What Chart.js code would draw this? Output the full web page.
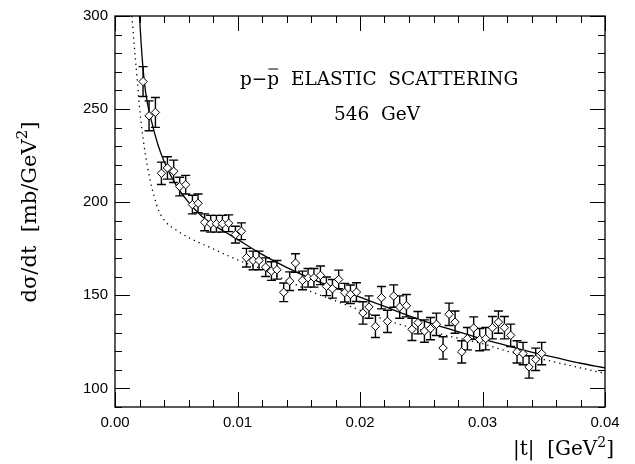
<!DOCTYPE html>
<html>
<head>
<meta charset="utf-8">
<script src="https://cdn.jsdelivr.net/npm/chart.js@4"></script>
<style>
  html, body { margin: 0; padding: 0; background: #fff; }
  #wrap { width: 635px; height: 464px; position: relative; }
</style>
</head>
<body>
<div id="wrap"><canvas id="chartElastic"></canvas></div>
<script>
// measured points: |t| (GeV^2), dsigma/dt (mb/GeV^2), error
const tVals = [
  0.00229, 0.00278, 0.00330, 0.00379, 0.00428, 0.00479, 0.00528, 0.00577, 0.00632, 0.00678,
  0.00732, 0.00781, 0.00828, 0.00877, 0.00928, 0.00983, 0.01032, 0.01073, 0.01127, 0.01176,
  0.01230, 0.01277, 0.01322, 0.01377, 0.01426, 0.01473, 0.01530, 0.01576, 0.01624, 0.01677,
  0.01726, 0.01775, 0.01826, 0.01875, 0.01922, 0.01971, 0.02024, 0.02073, 0.02126, 0.02175,
  0.02224, 0.02275, 0.02324, 0.02379, 0.02424, 0.02473, 0.02526, 0.02575, 0.02624, 0.02678,
  0.02727, 0.02776, 0.02830, 0.02877, 0.02928, 0.02977, 0.03026, 0.03081, 0.03130, 0.03179,
  0.03230, 0.03282, 0.03331, 0.03380, 0.03434, 0.03483
];
const dsdt = [
  264.8, 246.4, 248.2, 215.5, 218.4, 216.6, 208.4, 209.4, 198.7, 199.4,
  189.2, 188.4, 188.4, 188.4, 188.7, 182.6, 184.4, 170.2, 168.7, 168.7,
  165.1, 163.0, 163.7, 151.6, 157.6, 167.3, 158.0, 159.4, 159.4, 160.7,
  154.8, 153.5, 158.5, 151.4, 150.5, 151.7, 140.5, 143.7, 133.3, 148.7,
  136.0, 149.6, 143.7, 144.4, 131.7, 135.3, 130.8, 132.1, 134.4, 121.7,
  139.8, 135.6, 119.6, 126.7, 132.4, 126.2, 126.7, 132.6, 135.6, 132.6,
  128.5, 119.6, 118.7, 111.5, 115.6, 118.7
];
const dsdtErr = [
  8, 8, 8, 6, 6, 6, 5, 5, 5, 5,
  4.5, 4.5, 4.5, 4.5, 4.5, 4.5, 4.5, 5, 5, 5,
  5, 5, 5, 5, 5, 5, 5, 5, 5, 5,
  5, 5, 5, 5, 5, 5, 6, 6, 6, 6,
  6, 6, 6, 6, 6, 6, 6, 6, 6, 6,
  6, 6, 6, 6, 6, 6, 6, 6, 6, 6,
  6, 6, 6, 6, 6, 6
];

// solid curve
const solidT = [0.0020, 0.0022, 0.0025, 0.0030, 0.0035, 0.0040, 0.0050, 0.0060, 0.0070, 0.0080,
  0.0090, 0.0100, 0.0120, 0.0140, 0.0160, 0.0180, 0.0200, 0.0220, 0.0240, 0.0260,
  0.0280, 0.0300, 0.0320, 0.0340, 0.0360, 0.0380, 0.0400];
const solidY = [300, 279, 259, 243, 231, 222, 209, 200, 193, 188,
  184, 180, 172, 165, 159, 154, 149, 144, 139, 134.5,
  130.5, 126.5, 123, 119.5, 116.5, 113.5, 111];

// dotted curve
const dottedT = [0.00138, 0.0016, 0.0018, 0.0020, 0.0024, 0.0028, 0.0032, 0.0036, 0.0042, 0.0050,
  0.0060, 0.0080, 0.0100, 0.0120, 0.0140, 0.0160, 0.0180, 0.0200, 0.0220, 0.0240,
  0.0260, 0.0280, 0.0300, 0.0320, 0.0340, 0.0360, 0.0380, 0.0400];
const dottedY = [300, 282, 267, 251, 229, 214, 203, 195, 189, 185,
  181, 175, 169, 164, 158, 152, 147, 142, 137, 133,
  130, 127, 124, 120, 117, 114, 111, 108];

const xTicks = [0, 0.01, 0.02, 0.03, 0.04];
const yTicks = [100, 150, 200, 250, 300];

const pts = tVals.map((t, i) => ({ x: t, y: dsdt[i] }));
const solid = solidT.map((t, i) => ({ x: t, y: solidY[i] }));
const dotted = dottedT.map((t, i) => ({ x: t, y: dottedY[i] }));

const serif = '"DejaVu Serif", "Liberation Serif", serif';

const errorBars = {
  id: "errorBars",
  beforeDatasetsDraw(chart) {
    const { ctx, scales: { x, y } } = chart;
    ctx.save();
    ctx.strokeStyle = "#000";
    ctx.lineWidth = 1.4;
    tVals.forEach((t, i) => {
      const px = x.getPixelForValue(t);
      const top = y.getPixelForValue(dsdt[i] + dsdtErr[i]);
      const bot = y.getPixelForValue(dsdt[i] - dsdtErr[i]);
      ctx.beginPath();
      ctx.moveTo(px, top); ctx.lineTo(px, bot);
      ctx.moveTo(px - 4.5, top); ctx.lineTo(px + 4.5, top);
      ctx.moveTo(px - 4.5, bot); ctx.lineTo(px + 4.5, bot);
      ctx.stroke();
    });
    ctx.restore();
  }
};

// superscript-aware text: draws base then a raised small "2"
function drawWithSup(ctx, parts, x, y, size) {
  let cx = x;
  parts.forEach(([txt, sup]) => {
    ctx.font = (sup ? Math.round(size * 0.7) : size) + "px " + serif;
    ctx.fillText(txt, cx, sup ? y - size * 0.42 : y);
    cx += ctx.measureText(txt).width;
  });
  return cx - x;
}
function widthWithSup(ctx, parts, size) {
  let w = 0;
  parts.forEach(([txt, sup]) => {
    ctx.font = (sup ? Math.round(size * 0.7) : size) + "px " + serif;
    w += ctx.measureText(txt).width;
  });
  return w;
}

const frame = {
  id: "frame",
  afterDraw(chart) {
    const { ctx, chartArea: a, scales: { x, y } } = chart;
    ctx.save();
    ctx.strokeStyle = "#000";
    ctx.lineWidth = 1.3;
    ctx.strokeRect(a.left, a.top, a.right - a.left, a.bottom - a.top);
    ctx.lineWidth = 1;
    ctx.beginPath();
    for (let k = 0; k <= 20; k++) {
      const v = k * 0.002;
      const px = Math.round(x.getPixelForValue(v)) + 0.5;
      const len = k % 5 === 0 ? 15 : 7;
      ctx.moveTo(px, a.bottom); ctx.lineTo(px, a.bottom - len);
      ctx.moveTo(px, a.top); ctx.lineTo(px, a.top + len);
    }
    for (let v = 90; v <= 300; v += 10) {
      const py = Math.round(y.getPixelForValue(v)) + 0.5;
      const len = v % 50 === 0 ? 15 : 7;
      ctx.moveTo(a.left, py); ctx.lineTo(a.left + len, py);
      ctx.moveTo(a.right, py); ctx.lineTo(a.right - len, py);
    }
    ctx.stroke();

    // in-plot title
    ctx.fillStyle = "#000";
    ctx.font = "18.5px " + serif;
    ctx.textBaseline = "alphabetic";
    ctx.textAlign = "left";
    let cx = 240;
    const base = 85;
    const wp = ctx.measureText("p").width;
    ctx.fillText("p", cx, base); cx += wp;
    ctx.fillText("\u2212", cx, base); cx += ctx.measureText("\u2212").width;
    ctx.fillText("p", cx, base);
    ctx.beginPath();
    ctx.lineWidth = 1;
    ctx.moveTo(cx + 1, base - 16); ctx.lineTo(cx + wp - 1, base - 16);
    ctx.stroke();
    cx += wp;
    ctx.fillText("  ELASTIC  SCATTERING", cx, base);
    ctx.textAlign = "center";
    ctx.fillText("546  GeV", 377, 120);

    // axis titles
    ctx.textAlign = "left";
    const xt = [["|t|  [GeV", false], ["2", true], ["]", false]];
    const xw = widthWithSup(ctx, xt, 20);
    drawWithSup(ctx, xt, 614 - xw, 455, 20);

    const yt = [["d\u03C3/dt  [mb/GeV", false], ["2", true], ["]", false]];
    ctx.save();
    ctx.translate(36, 212);
    ctx.rotate(-Math.PI / 2);
    const yw = widthWithSup(ctx, yt, 21);
    drawWithSup(ctx, yt, -yw / 2, 0, 21);
    ctx.restore();
    ctx.restore();
  }
};

new Chart(document.getElementById("chartElastic"), {
  type: "scatter",
  data: {
    datasets: [
      {
        label: "data",
        data: pts,
        showLine: false,
        pointStyle: "rectRot",
        pointRadius: 4.2,
        pointBorderWidth: 1,
        pointBorderColor: "#000",
        pointBackgroundColor: "#fff",
        order: 0
      },
      {
        label: "solid",
        data: solid,
        showLine: true,
        borderColor: "#000",
        borderWidth: 1.3,
        pointRadius: 0,
        cubicInterpolationMode: "monotone",
        order: 1
      },
      {
        label: "dotted",
        data: dotted,
        showLine: true,
        borderColor: "#000",
        borderWidth: 1.3,
        borderDash: [1.3, 4],
        pointRadius: 0,
        cubicInterpolationMode: "monotone",
        order: 2
      }
    ]
  },
  options: {
    responsive: true,
    maintainAspectRatio: false,
    animation: false,
    layout: { padding: { top: 15, right: 30, left: 0, bottom: 0 } },
    plugins: { legend: { display: false }, tooltip: { enabled: false } },
    scales: {
      x: {
        type: "linear",
        min: 0,
        max: 0.04,
        grid: { display: false, drawTicks: false },
        border: { display: false },
        afterBuildTicks: (s) => { s.ticks = xTicks.map(v => ({ value: v })); },
        afterFit: (s) => { s.height = 57; },
        ticks: {
          padding: 7,
          color: "#000",
          font: { family: '"Liberation Sans", Arial, sans-serif', size: 15 },
          callback: (v) => Number(v).toFixed(2)
        }
      },
      y: {
        type: "linear",
        min: 90,
        max: 300,
        grid: { display: false, drawTicks: false },
        border: { display: false },
        afterBuildTicks: (s) => { s.ticks = yTicks.map(v => ({ value: v })); },
        afterFit: (s) => { s.width = 115; },
        ticks: {
          padding: 7,
          color: "#000",
          font: { family: '"Liberation Sans", Arial, sans-serif', size: 15 },
          callback: (v) => String(v)
        }
      }
    }
  },
  plugins: [errorBars, frame]
});
</script>
</body>
</html>
